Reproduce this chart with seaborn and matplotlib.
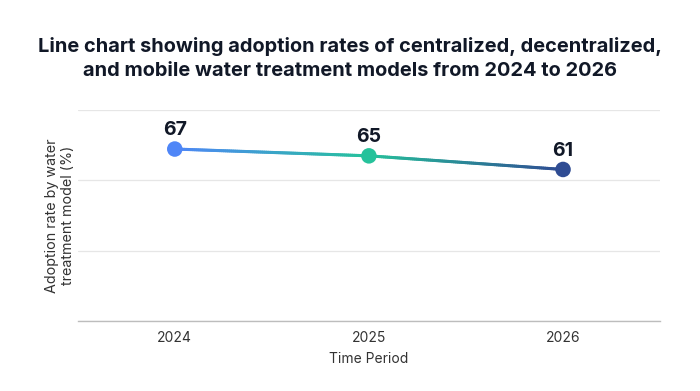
import numpy as np
import pandas as pd
import seaborn as sns
import matplotlib.pyplot as plt
from matplotlib.collections import LineCollection
from matplotlib.colors import LinearSegmentedColormap

years = [2024, 2025, 2026]
rates = [67, 65, 61]
point_colors = ["#4F86F7", "#26C29B", "#2F4C93"]

title = ("Line chart showing adoption rates of centralized, decentralized,\n"
         "and mobile water treatment models from 2024 to 2026")
x_label = "Time Period"
y_label = "Adoption rate by water\ntreatment model (%)"

df = pd.DataFrame({"year": years, "rate": rates})

sns.set_theme(style="white")
plt.rcParams["font.family"] = ["Inter", "DejaVu Sans"]

fig = plt.figure(figsize=(7, 3.91), dpi=100)
ax = fig.add_axes([0.111, 0.179, 0.832, 0.540])

# gradient line: split each segment into short pieces for colour only
cmap = LinearSegmentedColormap.from_list("grad", point_colors)
xs = np.linspace(years[0], years[-1], 200)
ys = np.interp(xs, years, rates)
pts = np.column_stack([xs, ys]).reshape(-1, 1, 2)
segs = np.concatenate([pts[:-1], pts[1:]], axis=1)
lc = LineCollection(segs, cmap=cmap, linewidth=2.2, capstyle="round", zorder=2)
lc.set_array((xs[:-1] - years[0]) / (years[-1] - years[0]))
ax.add_collection(lc)

sns.scatterplot(data=df, x="year", y="rate", hue="year", palette=point_colors,
                s=125, edgecolor="none", legend=False, zorder=3, ax=ax)

for x, y in zip(years, rates):
    ax.annotate(str(y), (x, y), xytext=(0, 7), textcoords="offset points",
                ha="center", va="bottom", fontsize=14, fontweight="bold",
                color="#111827")

ylim = (16.5, 78.5)
ax.set_ylim(ylim)
ax.set_yticks(np.linspace(ylim[0], ylim[1], 4))
ax.set_yticklabels([])
ax.set_xlim(2023.5, 2026.5)
ax.set_xticks(years)
ax.set_xticklabels([str(y) for y in years])
ax.tick_params(axis="x", length=0, labelsize=10, labelcolor="#333333", pad=7)
ax.tick_params(axis="y", length=0, pad=0)
ax.grid(axis="y", color="#e6e6e6", linewidth=0.9)
ax.grid(axis="x", visible=False)
for s in ["top", "right", "left"]:
    ax.spines[s].set_visible(False)
ax.spines["bottom"].set_color("#bdbdbd")
ax.spines["bottom"].set_linewidth(1.0)

ax.set_xlabel(x_label, fontsize=10, color="#333333", labelpad=5)
ax.set_ylabel(y_label, fontsize=10.3, color="#333333", labelpad=2)

fig.suptitle(title, x=0.5, y=0.905, fontsize=14.4, fontweight="bold",
             color="#111827", linespacing=1.45)

fig.savefig("out.png", dpi=100, facecolor="white")
